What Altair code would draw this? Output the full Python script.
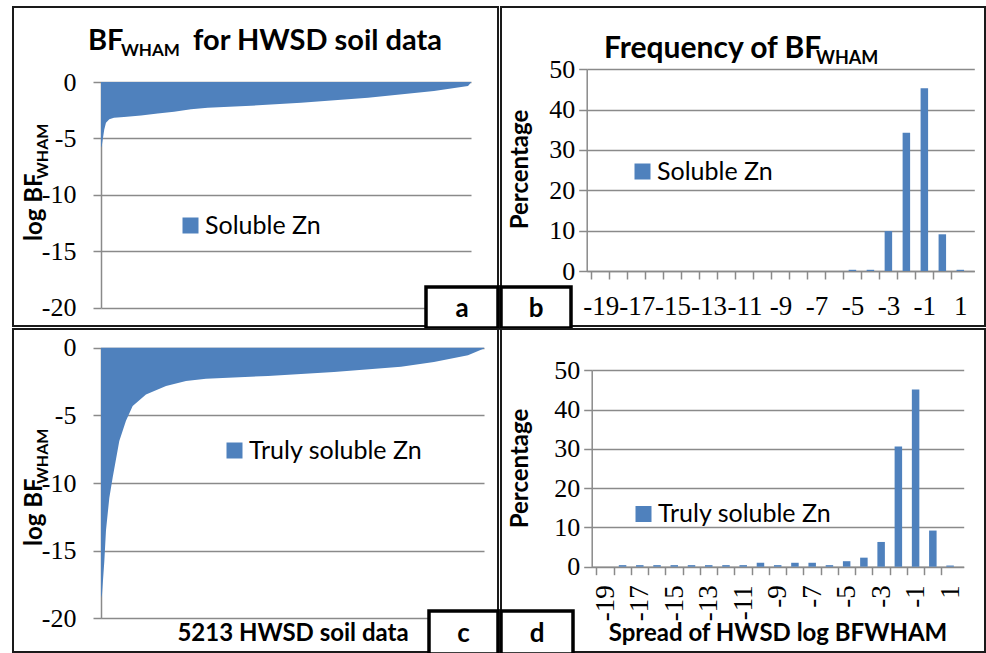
import altair as alt
import pandas as pd

# ---------------- data ----------------
# Panel a: sorted log BF_WHAM of soluble Zn for 5213 HWSD soils (rank, value)
soluble_rank = [0, 10, 46, 70, 117, 183, 324, 564, 799, 1029, 1268, 1503, 2113, 2818, 3762, 4692, 5171, 5213]
soluble_logbf = [-5.8, -5.7, -4.2, -3.6, -3.3, -3.17, -3.1, -2.96, -2.8, -2.63, -2.42, -2.28, -2.1, -1.83, -1.39, -0.8, -0.35, -0.05]

# Panel c: sorted log BF_WHAM of truly soluble Zn
truly_rank = [0, 14, 45, 68, 113, 159, 249, 340, 431, 612, 885, 1157, 1429, 2273, 3171, 4083, 4532, 4995, 5213]
truly_logbf = [-18.5, -18.2, -15.8, -13.5, -11.1, -9.6, -6.9, -5.4, -4.3, -3.45, -2.83, -2.46, -2.3, -2.09, -1.8, -1.4, -1.06, -0.56, -0.05]

# Panels b, d: frequency (%) of log BF_WHAM classes
bins = list(range(-19, 2))
soluble_pct = [0, 0, 0, 0, 0, 0, 0, 0, 0, 0, 0, 0, 0, 0, 0.3, 0.3, 9.9, 34.3, 45.3, 9.1, 0.3]
truly_pct = [0, 0.4, 0.4, 0.4, 0.4, 0.4, 0.4, 0.4, 0.4, 1.0, 0.4, 1.0, 1.0, 0.4, 1.4, 2.3, 6.3, 30.6, 45.1, 9.2, 0.3]

y_ticks_log = [-20, -15, -10, -5, 0]
y_ticks_pct = [0, 10, 20, 30, 40, 50]

BLUE = "#4f81bd"
GRID = "#8a8a8a"
SERIF = "Liberation Serif"
SANS = "Lato"

W_L, W_R = 485, 484
H_T, H_B = 319, 323


def txt(s, x, y, size, weight="bold", angle=0, align="left", baseline="alphabetic", font=SANS):
    return alt.Chart(pd.DataFrame({"t": [s]})).mark_text(
        font=font, fontSize=size, fontWeight=weight, angle=angle, align=align,
        baseline=baseline, color="black"
    ).encode(text="t:N", x=alt.value(x), y=alt.value(y))


def box(letter, x1, x2, y1, y2):
    df = pd.DataFrame({"t": [letter]})
    r = alt.Chart(df).mark_rect(fill="white", stroke="black", strokeWidth=3.5).encode(
        x=alt.value(x1), x2=alt.value(x2), y=alt.value(y1), y2=alt.value(y2))
    t = alt.Chart(df).mark_text(font=SANS, fontSize=26, fontWeight="bold", align="center",
                                baseline="middle", color="black").encode(
        text="t:N", x=alt.value((x1 + x2) / 2), y=alt.value((y1 + y2) / 2 + 1))
    return [r, t]


def legend(x, y):
    return alt.Legend(orient="none", legendX=x, legendY=y, title=None, symbolType="square",
                      symbolSize=256, symbolStrokeWidth=0, symbolOpacity=1, labelFont=SANS,
                      labelFontSize=25, labelColor="black", labelOffset=2, padding=0,
                      labelLimit=0)


def y_axis(offset, values, pad, label_size=26):
    return alt.Axis(values=values, offset=offset, title=None, grid=True, gridColor=GRID,
                    gridWidth=1.5, domainColor=GRID, domainWidth=1.5, tickColor=GRID,
                    tickWidth=1.5, tickSize=8, labelFont=SERIF, labelFontSize=label_size,
                    labelColor="black", labelPadding=pad, labelExpr="'' + datum.value")


def area_panel(rank, vals, name, xr, yr, h, leg_xy):
    df = pd.DataFrame({"rank": rank, "v": vals, "series": name})
    return alt.Chart(df).mark_area(color=BLUE, opacity=1, interpolate="linear").encode(
        x=alt.X("rank:Q", axis=None, scale=alt.Scale(domain=[0, 5213], range=xr, nice=False, zero=False)),
        y=alt.Y("v:Q", axis=y_axis(-xr[0], y_ticks_log, 17),
                scale=alt.Scale(domain=[-20, 0], range=yr, nice=False)),
        color=alt.Color("series:N", scale=alt.Scale(range=[BLUE]), legend=legend(*leg_xy)),
    )


def bar_panel(pct, name, xr, yr, h, leg_xy, rotate):
    df = pd.DataFrame({"bin": bins, "pct": pct, "series": name})
    step = (xr[1] - xr[0]) / 21.0
    ax_kw = dict(
        values=list(range(-19, 3)), offset=-(h - yr[0]), title=None, grid=False,
        domainColor=GRID, domainWidth=1.5, tickColor=GRID, tickWidth=1.5, tickSize=8,
        tickOffset=-step / 2, labelOffset=step / 2, labelFont=SERIF, labelFontSize=27,
        labelColor="black", labelOverlap=False, labelBound=False, labelFlush=False,
        labelExpr="(datum.value % 2 != 0 && datum.value <= 1) ? '' + datum.value : ''",
    )
    if rotate:
        ax_kw.update(labelAngle=270, labelPadding=10)
    else:
        ax_kw.update(labelPadding=14)
    return alt.Chart(df).mark_bar(color=BLUE, size=7.5).encode(
        x=alt.X("bin:Q", axis=alt.Axis(**ax_kw),
                scale=alt.Scale(domain=[-19.5, 1.5], range=xr, nice=False, zero=False)),
        y=alt.Y("pct:Q", axis=y_axis(-xr[0], y_ticks_pct, 4),
                scale=alt.Scale(domain=[0, 50], range=yr, nice=False)),
        color=alt.Color("series:N", scale=alt.Scale(range=[BLUE]), legend=legend(*leg_xy)),
    )


# ---------------- panel a ----------------
pa = alt.layer(
    area_panel(soluble_rank, soluble_logbf, "Soluble Zn", [88, 458], [300.7, 75], H_T, (165, 206)),
    txt("BF", 75, 43, 29),
    txt("WHAM", 108, 49, 17),
    txt("for HWSD soil data", 180, 43, 29),
    txt("log BF", 29, 234, 24, angle=270),
    txt("WHAM", 35, 172, 16, angle=270),
    *box("a", 413, 485, 280, 321),
).properties(width=W_L, height=H_T)

# ---------------- panel b ----------------
pb = alt.layer(
    bar_panel(soluble_pct, "Soluble Zn", [85.7, 473.3], [264, 62.3], H_T, (129, 152), False),
    txt("Frequency of BF", 103, 51, 30),
    txt("WHAM", 315, 57, 18),
    txt("Percentage", 27, 162.5, 24, angle=270, align="center"),
    *box("b", 0, 70, 280, 321),
).properties(width=W_R, height=H_T)

# ---------------- panel c ----------------
pc = alt.layer(
    area_panel(truly_rank, truly_logbf, "Truly soluble Zn", [88, 471], [289.3, 18.7], H_B, (209, 109)),
    txt("log BF", 29, 217, 24, angle=270),
    txt("WHAM", 35, 155, 16, angle=270),
    txt("5213 HWSD soil data", 280, 312, 24, align="center"),
    *box("c", 416, 485, 282, 325),
).properties(width=W_L, height=H_B)

# ---------------- panel d ----------------
pd_ = alt.layer(
    bar_panel(truly_pct, "Truly soluble Zn", [90.7, 462.7], [237.7, 41.3], H_B, (130, 172.5), True),
    txt("Percentage", 27, 139.5, 24, angle=270, align="center"),
    txt("Spread of HWSD log BFWHAM", 277, 312, 24, align="center"),
    *box("d", 0, 72, 282, 325),
).properties(width=W_R, height=H_B)

chart = alt.concat(pa, pb, pc, pd_, columns=2, spacing=3, bounds="flush").resolve_scale(
    x="independent", y="independent", color="independent").resolve_legend(color="independent"
).configure(
    padding={"left": 12, "top": 6, "right": 0, "bottom": 0}, background="white"
).configure_view(stroke="#1a1a1a", strokeWidth=2)

chart.save("out.html", embed_options={"renderer": "svg", "actions": False})
